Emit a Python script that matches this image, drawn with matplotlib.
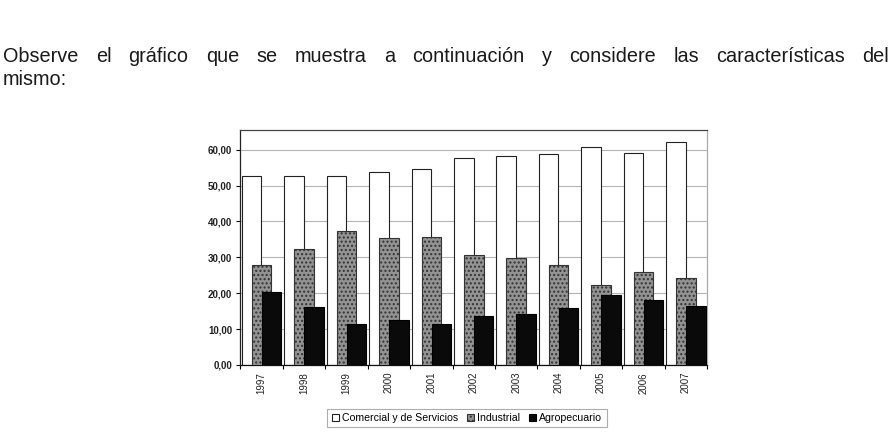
import numpy as np
import matplotlib
matplotlib.use("Agg")
import matplotlib.pyplot as plt

plt.rcParams['font.family'] = ['Liberation Sans', 'DejaVu Sans']

years = ['1997', '1998', '1999', '2000', '2001', '2002', '2003', '2004', '2005', '2006', '2007']
comercial = [52.6, 52.6, 52.6, 53.8, 54.7, 57.7, 58.3, 58.8, 60.8, 59.0, 62.2]
industrial = [27.8, 32.2, 37.4, 35.5, 35.6, 30.6, 29.8, 27.9, 22.3, 26.0, 24.3]
agropecuario = [20.3, 16.3, 11.4, 12.6, 11.4, 13.7, 14.2, 16.0, 19.4, 18.0, 16.4]
series_names = ['Comercial y de Servicios', 'Industrial', 'Agropecuario']
y_ticks = [0, 10, 20, 30, 40, 50, 60]

line1 = ('Observe el gráfico que se muestra a continuación y considere '
         'las características del')
line2 = 'mismo:'

W, H = 892, 442
fig = plt.figure(figsize=(W / 100, H / 100), dpi=100)

# justified paragraph line: measure words, then spread them evenly
words = line1.split()
left_px, right_px = 3, 889
txts = [fig.text(0, 1 - 62 / H, w, fontsize=14.3, color='#1a1a1a',
                 ha='left', va='baseline') for w in words]
rend = fig.canvas.get_renderer()
widths = [t.get_window_extent(rend).width for t in txts]
gap = (right_px - left_px - sum(widths)) / (len(words) - 1)
xp = left_px
for t, wd in zip(txts, widths):
    t.set_x(xp / W)
    xp += wd + gap
fig.text(left_px / W, 1 - 85 / H, line2, fontsize=14.3, color='#1a1a1a',
         ha='left', va='baseline')

ax = fig.add_axes([240.5 / W, 1 - 365 / H, (707 - 240.5) / W, (365 - 130) / H])

x = np.arange(len(years))
bw = 0.46
off = 0.235
b1 = ax.bar(x - off, comercial, bw, color='white', edgecolor='#222222', linewidth=0.8,
            label=series_names[0], zorder=2)
b2 = ax.bar(x, industrial, bw, color='#939393', edgecolor='#333333', linewidth=0.8,
            hatch='....', label=series_names[1], zorder=3)
b3 = ax.bar(x + off, agropecuario, bw, color='#0a0a0a', edgecolor='black', linewidth=0.8,
            label=series_names[2], zorder=4)

ax.set_xlim(-0.5, len(years) - 0.5)
ax.set_ylim(0, 65.5)
ax.set_yticks(y_ticks)
ax.set_yticklabels([f'{v:.2f}'.replace('.', ',') for v in y_ticks],
                   fontsize=7, fontweight='bold', color='#222222')
ax.yaxis.grid(True, color='#b5b5b5', linewidth=0.8)
ax.set_axisbelow(True)

ax.set_xticks(x)
ax.set_xticklabels(years, rotation=90, fontsize=7, color='#222222')
ax.set_xticks(np.arange(len(years) + 1) - 0.5, minor=True)
ax.tick_params(axis='x', which='major', length=0, pad=5)
ax.tick_params(axis='x', which='minor', length=3, width=0.8, direction='out')
ax.tick_params(axis='y', length=3, width=0.8, pad=3)

ax.spines['left'].set_color('#222222')
ax.spines['bottom'].set_color('#111111')
ax.spines['top'].set_color('#444444')
ax.spines['right'].set_color('#aaaaaa')
for s in ax.spines.values():
    s.set_linewidth(0.9)

leg = fig.legend(handles=[b1, b2, b3], labels=series_names, loc='center',
                 bbox_to_anchor=(467 / W, 1 - 418 / H), ncol=3, fontsize=7.6,
                 frameon=True, fancybox=False, edgecolor='#999999',
                 handlelength=0.7, handleheight=0.7, handletextpad=0.3,
                 columnspacing=0.8, borderpad=0.4)
leg.get_frame().set_linewidth(0.8)

fig.savefig('out.png', dpi=100)
